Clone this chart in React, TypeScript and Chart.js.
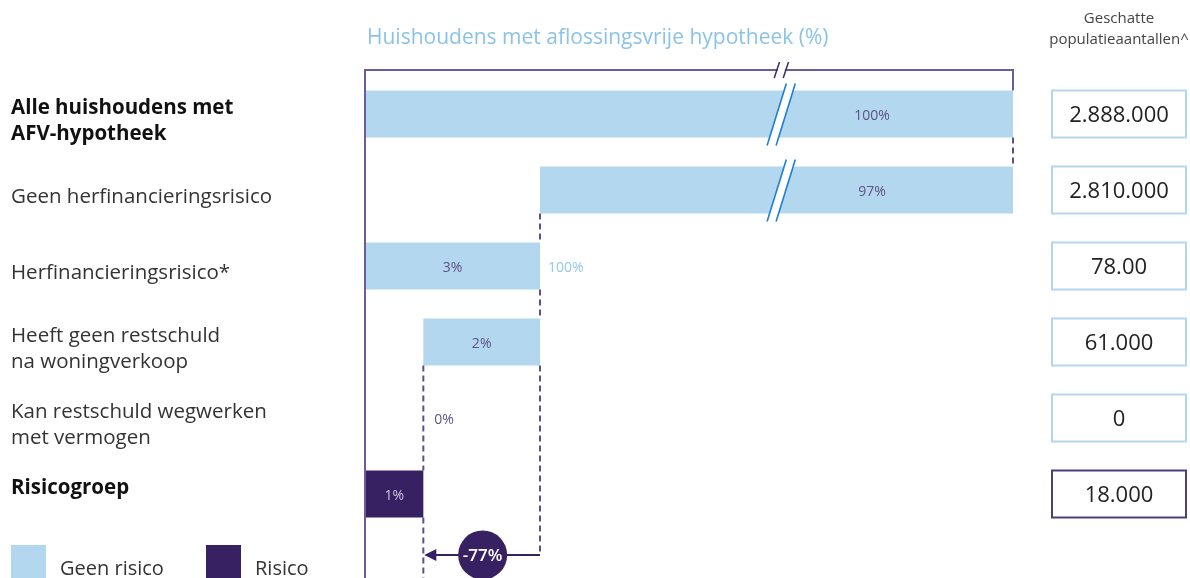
import React, { useEffect, useRef } from "react";
import { Chart, registerables, LinearScale } from "chart.js";

// ---------- data ----------
const categories: (string | string[])[] = [
  ["Alle huishoudens met", "AFV-hypotheek"],
  "Geen herfinancieringsrisico",
  "Herfinancieringsrisico*",
  ["Heeft geen restschuld", "na woningverkoop"],
  ["Kan restschuld wegwerken", "met vermogen"],
  ["Risicogroep", ""],
];
const boldRows = [true, false, false, false, false, true];
const barStarts = [0, 3, 0, 1, 1, 0];
const shares = [100, 97, 3, 2, 0, 1];
const riskRows = [false, false, false, false, false, true];
const shareLabels = ["100%", "97%", "3%", "2%", "0%", "1%"];
const populations = ["2.888.000", "2.810.000", "78.00", "61.000", "0", "18.000"];
const subgroupLabel = "100%";
const changeLabel = "-77%";
const legendLabels = ["Geen risico", "Risico"];
const titleText = "Huishoudens met aflossingsvrije hypotheek (%)";
const populationHeader = ["Geschatte", "populatieaantallen^"];
const axisMin = 0;
const axisMax = 100;
const zoomEnd = 3; // values beyond this are drawn compressed (broken axis)
const breakValue = 52.5;

// ---------- style ----------
const FONT = "'Open Sans', Lato, sans-serif";
const LIGHT = "#b3d7ee";
const DARK = "#372163";
const FRAME = "#6c5c97";
const DASH = "#5d4f88";
const BREAK_BLUE = "#1f7fcf";
const COMPRESS = 0.0836;

function warp(v: number) {
  return v <= zoomEnd ? v : zoomEnd + (v - zoomEnd) * COMPRESS;
}
function unwarp(t: number) {
  return t <= zoomEnd ? t : zoomEnd + (t - zoomEnd) / COMPRESS;
}

class BrokenLinearScale extends LinearScale {
  static id = "brokenLinear";
  static defaults = { ...(LinearScale as any).defaults };
  getPixelForValue(value: number) {
    const a = warp(this.min), b = warp(this.max);
    return this.getPixelForDecimal((warp(value) - a) / (b - a));
  }
  getValueForPixel(pixel: number) {
    const a = warp(this.min), b = warp(this.max);
    return unwarp(a + this.getDecimalForPixel(pixel) * (b - a));
  }
}

Chart.register(...registerables, BrokenLinearScale as any);

const HALF_BAR = 23.5;

const overlayPlugin = {
  id: "overlay",
  afterDatasetsDraw(chart: any) {
    const { ctx, scales } = chart;
    const x = scales.x, y = scales.y;
    const bx = x.getPixelForValue(breakValue);
    const gap = 4.5, slope = 0.31;
    ctx.save();
    // breaks on long bars
    categories.forEach((_, i) => {
      const s = barStarts[i], e = s + shares[i];
      if (!(s < breakValue && e > breakValue)) return;
      const yc = y.getPixelForValue(i);
      const top = yc - HALF_BAR - 7, bot = yc + HALF_BAR + 8;
      const xa = (cx: number, yy: number) => cx + (yc - yy) * slope;
      ctx.fillStyle = "#fff";
      ctx.beginPath();
      ctx.moveTo(xa(bx - gap, top), top);
      ctx.lineTo(xa(bx + gap, top), top);
      ctx.lineTo(xa(bx + gap, bot), bot);
      ctx.lineTo(xa(bx - gap, bot), bot);
      ctx.closePath();
      ctx.fill();
      ctx.strokeStyle = BREAK_BLUE;
      ctx.lineWidth = 1.6;
      [bx - gap, bx + gap].forEach((cx) => {
        ctx.beginPath();
        ctx.moveTo(xa(cx, top), top);
        ctx.lineTo(xa(cx, bot), bot);
        ctx.stroke();
      });
    });
    // value labels
    ctx.font = `14px ${FONT}`;
    ctx.textBaseline = "middle";
    categories.forEach((_, i) => {
      const s = barStarts[i], e = s + shares[i];
      const yc = y.getPixelForValue(i) + 2;
      const ps = x.getPixelForValue(s), pe = x.getPixelForValue(e);
      let tx: number;
      let align: CanvasTextAlign = "center";
      if (shares[i] === 0) {
        tx = ps + 11;
        align = "left";
      } else if (s < breakValue && e > breakValue) {
        tx = pe - 141;
      } else {
        tx = (ps + pe) / 2;
      }
      ctx.fillStyle = riskRows[i] ? "#cfc6e2" : "#5e5188";
      ctx.textAlign = align;
      ctx.fillText(shareLabels[i], tx, yc);
    });
    // subgroup label right of row 2
    ctx.fillStyle = "#93c8eb";
    ctx.textAlign = "left";
    ctx.fillText(subgroupLabel, x.getPixelForValue(barStarts[2] + shares[2]) + 8, y.getPixelForValue(2) + 2);
    ctx.restore();
  },
  afterDraw(chart: any) {
    const { ctx, chartArea, scales } = chart;
    const x = scales.x, y = scales.y;
    const H = chart.height;
    const ends = barStarts.map((s, i) => s + shares[i]);
    const rowTop = (i: number) => y.getPixelForValue(i) - HALF_BAR;
    const rowBot = (i: number) => y.getPixelForValue(i) + HALF_BAR;
    ctx.save();

    // frame
    const left = chartArea.left;
    const right = x.getPixelForValue(axisMax);
    const topY = chartArea.top - 6;
    ctx.strokeStyle = FRAME;
    ctx.lineWidth = 2;
    ctx.beginPath();
    ctx.moveTo(left, H);
    ctx.lineTo(left, topY);
    ctx.lineTo(right, topY);
    ctx.lineTo(right, rowTop(0));
    ctx.stroke();
    // top break
    const bx = x.getPixelForValue(breakValue);
    const gap = 4.5;
    ctx.fillStyle = "#fff";
    ctx.fillRect(bx - gap + 1, topY - 2, 2 * gap - 2, 4);
    ctx.strokeStyle = "#3d2d66";
    ctx.lineWidth = 1.5;
    [bx - gap, bx + gap].forEach((cx) => {
      ctx.beginPath();
      ctx.moveTo(cx + 8 * 0.33, topY - 8);
      ctx.lineTo(cx - 8 * 0.33, topY + 8);
      ctx.stroke();
    });

    // dashed connectors
    const arrowY = chartArea.bottom + 23;
    ctx.strokeStyle = DASH;
    ctx.lineWidth = 2;
    ctx.setLineDash([6, 4]);
    const dashed = (px: number, y0: number, y1: number) => {
      ctx.beginPath();
      ctx.moveTo(px, y0);
      ctx.lineTo(px, y1);
      ctx.stroke();
    };
    dashed(x.getPixelForValue(ends[0]), rowBot(0), rowTop(1));
    dashed(x.getPixelForValue(barStarts[1]), rowBot(1), rowTop(2));
    dashed(x.getPixelForValue(ends[2]), rowBot(2), rowTop(3));
    dashed(x.getPixelForValue(ends[3]), rowBot(3), arrowY);
    dashed(x.getPixelForValue(barStarts[3]), rowBot(3), rowTop(5));
    dashed(x.getPixelForValue(barStarts[3]), rowBot(5), H);
    ctx.setLineDash([]);

    // arrow with change bubble
    const ax0 = x.getPixelForValue(ends[3]);
    const ax1 = x.getPixelForValue(ends[5]) + 1;
    ctx.strokeStyle = DARK;
    ctx.lineWidth = 2;
    ctx.beginPath();
    ctx.moveTo(ax0, arrowY);
    ctx.lineTo(ax1 + 10, arrowY);
    ctx.stroke();
    ctx.fillStyle = DARK;
    ctx.beginPath();
    ctx.moveTo(ax1, arrowY);
    ctx.lineTo(ax1 + 12, arrowY - 6);
    ctx.lineTo(ax1 + 12, arrowY + 6);
    ctx.closePath();
    ctx.fill();
    const cx = (ax0 + ax1) / 2 + 0.5;
    ctx.beginPath();
    ctx.arc(cx, arrowY, 24.5, 0, Math.PI * 2);
    ctx.fill();
    ctx.fillStyle = "#fff";
    ctx.font = `600 17px ${FONT}`;
    ctx.textAlign = "center";
    ctx.textBaseline = "middle";
    ctx.fillText(changeLabel, cx, arrowY + 1);

    // population boxes
    const boxL = right + 39, boxW = 134;
    ctx.lineWidth = 2;
    populations.forEach((p, i) => {
      const yc = y.getPixelForValue(i);
      ctx.strokeStyle = riskRows[i] ? "#4e3d7c" : LIGHT;
      ctx.strokeRect(boxL, yc - HALF_BAR, boxW, HALF_BAR * 2);
      ctx.fillStyle = "#222";
      ctx.font = `22px ${FONT}`;
      ctx.textAlign = "center";
      ctx.textBaseline = "middle";
      ctx.fillText(p, boxL + boxW / 2, yc + 2);
    });
    // population header
    ctx.fillStyle = "#444";
    ctx.font = `15px ${FONT}`;
    ctx.textAlign = "center";
    ctx.fillText(populationHeader[0], boxL + boxW / 2, 19);
    ctx.fillText(populationHeader[1], boxL + boxW / 2, 40);

    // title
    ctx.fillStyle = "#8bc3e7";
    ctx.font = `21px ${FONT}`;
    ctx.textAlign = "left";
    ctx.fillText(titleText, left + 2, 38);

    // legend
    ctx.font = `20px ${FONT}`;
    ctx.fillStyle = LIGHT;
    ctx.fillRect(11, 545, 35, 35);
    ctx.fillStyle = "#333";
    ctx.fillText(legendLabels[0], 60, 569);
    ctx.fillStyle = DARK;
    ctx.fillRect(206, 545, 35, 35);
    ctx.fillStyle = "#333";
    ctx.fillText(legendLabels[1], 255, 569);

    ctx.restore();
  },
};

export default function App() {
  const ref = useRef<HTMLCanvasElement | null>(null);
  useEffect(() => {
    if (!ref.current) return;
    const safeData = categories.map((_, i) =>
      riskRows[i] || shares[i] === 0 ? null : [barStarts[i], barStarts[i] + shares[i]]
    );
    const riskData = categories.map((_, i) =>
      riskRows[i] ? [barStarts[i], barStarts[i] + shares[i]] : null
    );
    const chart = new Chart(ref.current, {
      type: "bar",
      data: {
        labels: categories as any,
        datasets: [
          {
            label: legendLabels[0],
            data: safeData as any,
            backgroundColor: LIGHT,
            grouped: false,
            barPercentage: 1,
            categoryPercentage: 47 / 76,
          } as any,
          {
            label: legendLabels[1],
            data: riskData as any,
            backgroundColor: DARK,
            grouped: false,
            barPercentage: 1,
            categoryPercentage: 47 / 76,
          } as any,
        ],
      },
      options: {
        indexAxis: "y",
        responsive: false,
        animation: false,
        layout: { padding: { left: 11, right: 177, top: 76, bottom: 46 } },
        scales: {
          x: { type: "brokenLinear" as any, min: axisMin, max: axisMax, display: false },
          y: {
            type: "category",
            grid: { display: false },
            border: { display: false },
            ticks: {
              crossAlign: "far",
              labelOffset: 7,
              autoSkip: false,
              font: (c: any) => ({
                family: FONT,
                size: 20.5,
                weight: boldRows[c.index] ? "bold" : "normal",
                lineHeight: 1.27,
              }),
              color: (c: any) => (boldRows[c.index] ? "#111" : "#333"),
            },
            afterFit: (s: any) => {
              s.width = 354;
            },
          } as any,
        },
        plugins: { legend: { display: false }, tooltip: { enabled: false } },
      },
      plugins: [overlayPlugin],
    });
    return () => chart.destroy();
  }, []);
  return (
    <div style={{ position: "fixed", left: 0, top: 0, width: 1190, height: 578, background: "#fff" }}>
      <canvas ref={ref} width={1190} height={578} style={{ display: "block" }} />
    </div>
  );
}
